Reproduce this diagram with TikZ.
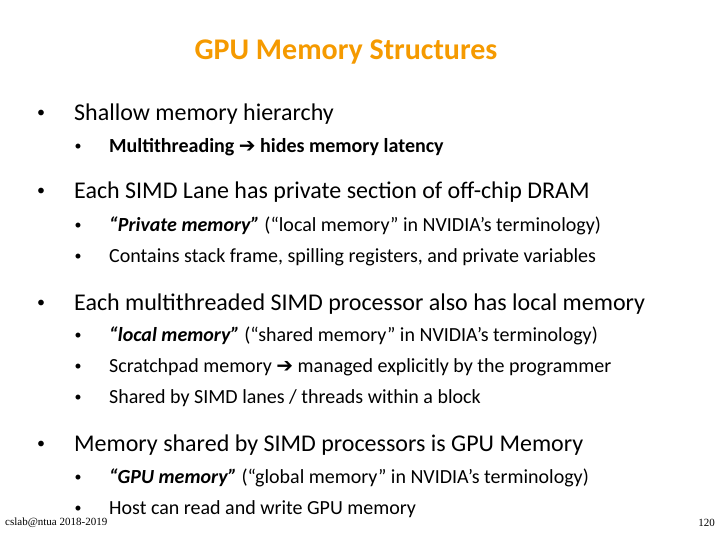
\documentclass[tikz,border=0pt]{standalone}
\usepackage{fontspec}
\setmainfont{Carlito}
\newfontfamily\arrowfont{DejaVu Sans}
\newfontfamily\timesfont{Liberation Serif}
\definecolor{titleorange}{HTML}{F59A00}
\newcommand{\thickarr}{{\arrowfont\bfseries ➔}}
\begin{document}
\begin{tikzpicture}[x=1pt,y=-1pt,
  lone/.style={anchor=west,inner sep=0pt,font=\fontsize{24}{28}\selectfont},
  ltwo/.style={anchor=west,inner sep=0pt,font=\fontsize{20}{24}\selectfont},
  bul/.style={anchor=center,inner sep=0pt,font=\fontsize{16}{18}\selectfont}]
\useasboundingbox (0,0) rectangle (720,540);
\node[inner sep=0pt,text=titleorange,font=\fontsize{30}{34}\selectfont\bfseries] (title) at (346,52) {GPU Memory Structures};
% level 1
\node[bul] (b1) at (41,114) {•};
\node[lone] (t1) at (74,114) {Shallow memory hierarchy};
\node[bul] (b2) at (41,192) {•};
\node[lone] (t2) at (74,192) {Each SIMD Lane has private section of off-chip DRAM};
\node[bul] (b3) at (41,304) {•};
\node[lone] (t3) at (74,304) {Each multithreaded SIMD processor also has local memory};
\node[bul] (b4) at (41,445) {•};
\node[lone] (t4) at (74,445) {Memory shared by SIMD processors is GPU Memory};
% level 2
\foreach \n/\y in {a/147,b/226,c/257,d/336,e/367,f/398,g/478,h/509}
  \node[bul,font=\fontsize{14}{16}\selectfont] (s\n) at (78,\y) {•};
\node[ltwo] (ta) at (109,147) {\bfseries Multithreading \thickarr{} hides memory latency};
\node[ltwo] (tb) at (109,226) {\textbf{\textit{“Private memory”}} (“local memory” in NVIDIA’s terminology)};
\node[ltwo] (tc) at (109,257) {Contains stack frame, spilling registers, and private variables};
\node[ltwo] (td) at (109,336) {\textbf{\textit{“local memory”}} (“shared memory” in NVIDIA’s terminology)};
\node[ltwo] (te) at (109,367) {Scratchpad memory {\arrowfont ➔} managed explicitly by the programmer};
\node[ltwo] (tf) at (109,398) {Shared by SIMD lanes / threads within a block};
\node[ltwo] (tg) at (109,478) {\textbf{\textit{“GPU memory”}} (“global memory” in NVIDIA’s terminology)};
\node[ltwo] (th) at (109,509) {Host can read and write GPU memory};
% footer
\node[anchor=west,inner sep=0pt,font=\timesfont\fontsize{11}{13}\selectfont] (foot) at (5,523) {cslab@ntua 2018-2019};
\node[anchor=east,inner sep=0pt,font=\timesfont\fontsize{11}{13}\selectfont] (pg) at (715,523) {120};
\end{tikzpicture}
\end{document}
